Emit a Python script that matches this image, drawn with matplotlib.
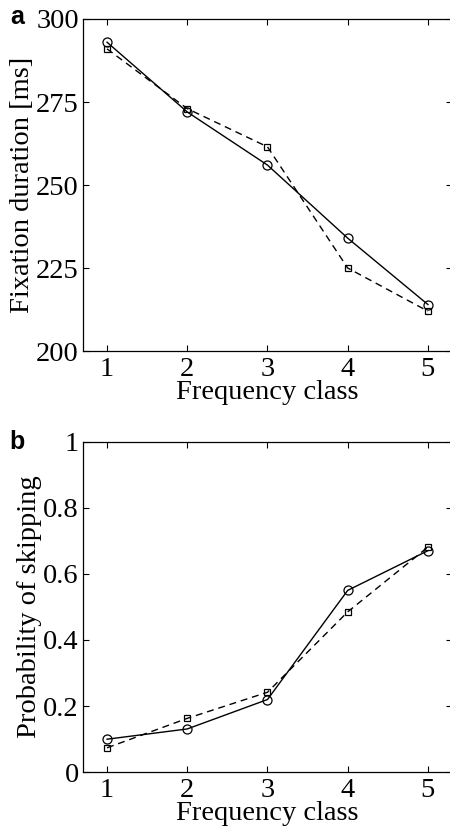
import matplotlib
matplotlib.use("Agg")
import matplotlib.pyplot as plt

freq_class = [1, 2, 3, 4, 5]
fix_solid = [293, 272, 256, 234, 214]
fix_dashed = [291, 273, 261.5, 225, 212]
skip_solid = [0.10, 0.131, 0.22, 0.55, 0.67]
skip_dashed = [0.074, 0.163, 0.242, 0.485, 0.681]

plt.rcParams['font.family'] = ['Liberation Serif', 'DejaVu Serif']

fig = plt.figure(figsize=(4.5, 8.33), dpi=100)
ax1 = fig.add_axes([0.1844, 0.5786, 0.82, 0.3986])
ax2 = fig.add_axes([0.1844, 0.0729, 0.82, 0.397])

fs = 20.5
for ax in (ax1, ax2):
    ax.tick_params(direction='in', top=True, right=True, length=4, width=0.8,
                   labelsize=fs)
    ax.tick_params(axis='x', pad=4)
    ax.tick_params(axis='y', pad=3)
    for sp in ax.spines.values():
        sp.set_linewidth(0.9)
    ax.set_xlim(0.7, 5.3)
    ax.set_xticks(freq_class)
    ax.set_xlabel('Frequency class', fontsize=fs, labelpad=-1)

ax1.plot(freq_class, fix_solid, '-', color='black', lw=1.0, marker='o',
         ms=6.5, mfc='none', mec='black', mew=0.9)
ax1.plot(freq_class, fix_dashed, '--', color='black', lw=1.0, marker='s',
         ms=5, mfc='none', mec='black', mew=0.9, dashes=(5, 3.5))
ax1.set_ylim(200, 300)
ax1.set_yticks([200, 225, 250, 275, 300])
ax1.set_ylabel('Fixation duration [ms]', fontsize=fs, labelpad=1)

ax2.plot(freq_class, skip_solid, '-', color='black', lw=1.0, marker='o',
         ms=6.5, mfc='none', mec='black', mew=0.9)
ax2.plot(freq_class, skip_dashed, '--', color='black', lw=1.0, marker='s',
         ms=5, mfc='none', mec='black', mew=0.9, dashes=(5, 3.5))
ax2.set_ylim(0, 1)
ax2.set_yticks([0, 0.2, 0.4, 0.6, 0.8, 1])
ax2.set_yticklabels(['0', '0.2', '0.4', '0.6', '0.8', '1'])
ax2.set_ylabel('Probability of skipping', fontsize=fs, labelpad=1)

fig.text(17 / 450, 1 - 17 / 833, 'a', fontsize=18, fontweight='bold',
         family=['Liberation Sans', 'DejaVu Sans'], ha='center', va='center')
fig.text(17 / 450, 1 - 442 / 833, 'b', fontsize=18, fontweight='bold',
         family=['Liberation Sans', 'DejaVu Sans'], ha='center', va='center')

fig.savefig('out.png', dpi=100)
